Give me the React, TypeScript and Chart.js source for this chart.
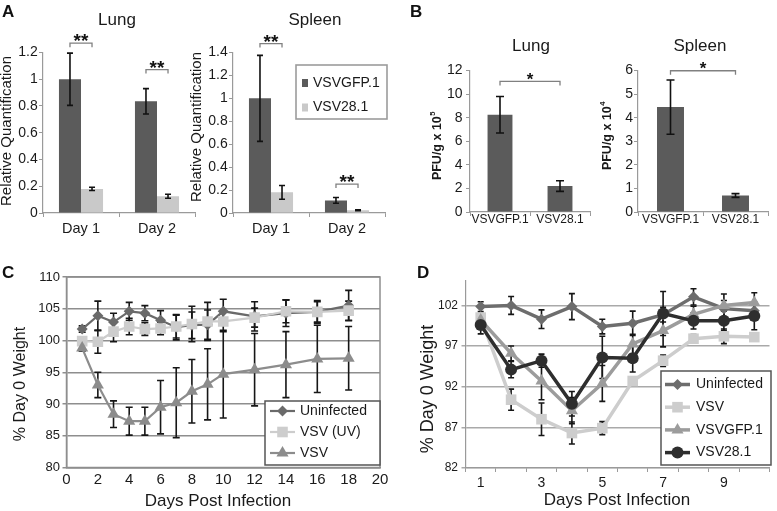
import React, { useEffect, useRef } from "react";
import { Chart, registerables } from "chart.js";

Chart.register(...registerables);

const FONT = '"Liberation Sans", Arial, Helvetica, sans-serif';
Chart.defaults.font.family = FONT;
Chart.defaults.color = "#222";

// ---------------- DATA ----------------
// Panel A (relative quantification)
const aDays = ["Day 1", "Day 2"];
const aSeries = ["VSVGFP.1", "VSV28.1"];
const aLungGFP = [1.0, 0.835];
const aLungGFPErr = [0.195, 0.095];
const aLung28 = [0.18, 0.125];
const aLung28Err = [0.012, 0.015];
const aSpleenGFP = [1.0, 0.11];
const aSpleenGFPErr = [0.375, 0.025];
const aSpleen28 = [0.18, 0.025];
const aSpleen28Err = [0.06, 0.004];
const aLungTicks = [0, 0.2, 0.4, 0.6, 0.8, 1, 1.2];
const aSpleenTicks = [0, 0.2, 0.4, 0.6, 0.8, 1, 1.2, 1.4];
// significance brackets (data units on the y axis)
const aLungSigLevels = [1.27, 1.072];
const aSpleenSigLevels = [1.478, 0.252];

// Panel B (PFU/g)
const bStrains = ["VSVGFP.1", "VSV28.1"];
const bLung = [8.25, 2.2];
const bLungErr = [1.55, 0.45];
const bSpleen = [4.45, 0.7];
const bSpleenErr = [1.15, 0.08];
const bLungTicks = [0, 2, 4, 6, 8, 10, 12];
const bSpleenTicks = [0, 1, 2, 3, 4, 5, 6];
const bLungSigLevel = 11.07;
const bSpleenSigLevel = 5.99;

// Panel C (weight, days 1-18)
const cDays = [1, 2, 3, 4, 5, 6, 7, 8, 9, 10, 12, 14, 16, 18];
const cSeries = ["Uninfected", "VSV (UV)", "VSV"];
const cUninfected = [101.8, 103.9, 102.9, 104.6, 104.3, 103.2, 102.1, 102.4, 102.5, 104.6, 103.8, 104.3, 104.5, 105.5];
const cUninfectedErr = [0.5, 2.3, 1.4, 1.4, 1.2, 1.5, 2.0, 2.1, 2.3, 1.9, 2.3, 2.1, 1.8, 2.4];
const cUV = [99.9, 99.8, 101.4, 102.2, 101.8, 101.9, 102.2, 102.6, 103.0, 103.0, 103.6, 104.6, 104.5, 104.7];
const cUVErr = [0.5, 1.8, 1.6, 1.3, 1.0, 1.0, 1.8, 2.8, 3.0, 1.6, 1.5, 1.8, 1.6, 1.5];
const cVSV = [98.8, 93.0, 88.4, 87.3, 87.3, 89.5, 90.2, 92.0, 93.1, 94.7, 95.4, 96.2, 97.1, 97.2];
const cVSVErr = [0.5, 2.0, 2.1, 2.2, 2.2, 4.2, 5.5, 5.0, 5.6, 6.9, 5.7, 5.2, 5.3, 5.0];
const cXTicks = [0, 2, 4, 6, 8, 10, 12, 14, 16, 18, 20];
const cYTicks = [80, 85, 90, 95, 100, 105, 110];

// Panel D (weight, days 1-10)
const dDays = ["1", "2", "3", "4", "5", "6", "7", "8", "9", "10"];
const dSeries = ["Uninfected", "VSV", "VSVGFP.1", "VSV28.1"];
const dUninfected = [101.85, 102.0, 100.3, 101.85, 99.4, 99.8, 100.85, 103.05, 101.6, 101.35];
const dUninfectedErr = [0.6, 1.1, 1.15, 1.6, 0.9, 1.5, 0.9, 1.0, 1.0, 0.8];
const dVSV = [100.5, 90.4, 88.0, 86.3, 86.9, 92.7, 95.2, 97.9, 98.2, 98.1];
const dVSVErr = [0.5, 1.3, 2.0, 1.35, 0.8, 0.5, 0.7, 0.5, 0.9, 0.5];
const dGFP = [100.2, 96.1, 92.7, 89.05, 92.4, 97.25, 98.9, 100.9, 102.0, 102.35];
const dGFPErr = [0.6, 0.9, 2.3, 1.6, 2.2, 1.2, 2.0, 1.0, 1.4, 1.2];
const d28 = [99.6, 94.1, 95.2, 89.9, 95.6, 95.5, 101.0, 100.1, 100.1, 100.7];
const d28Err = [1.1, 1.0, 0.8, 1.5, 2.6, 1.7, 2.7, 1.0, 1.2, 1.7];
const dYTicks = [82, 87, 92, 97, 102];

// ---------------- STYLE ----------------
const DARK = "#5b5b5b";
const LIGHT = "#c9c9c9";
const AXIS = "#9a9a9a";
const GRID_C = "#8e8e8e";
const GRID_D = "#a9a9a9";
const C_COLORS = ["#6a6a6a", "#cdcdcd", "#8c8c8c"];
const D_COLORS = ["#6d6d6d", "#cdcdcd", "#9c9c9c", "#2e2e2e"];

// ---------------- PLUGINS ----------------
function errorBars(o: { cap: number; width: number; color: string; after: boolean }) {
  const draw = (chart: any) => {
    const ctx = chart.ctx;
    const ys = chart.scales.y;
    ctx.save();
    ctx.strokeStyle = o.color;
    ctx.lineWidth = o.width;
    chart.data.datasets.forEach((ds: any, di: number) => {
      if (!ds.errors) return;
      const meta = chart.getDatasetMeta(di);
      meta.data.forEach((el: any, i: number) => {
        const raw = ds.data[i];
        const v = typeof raw === "number" ? raw : raw.y;
        const e = ds.errors[i];
        const x = el.x;
        const y1 = ys.getPixelForValue(v + e);
        const y2 = ys.getPixelForValue(v - e);
        ctx.beginPath();
        ctx.moveTo(x, y1);
        ctx.lineTo(x, y2);
        ctx.moveTo(x - o.cap / 2, y1);
        ctx.lineTo(x + o.cap / 2, y1);
        ctx.moveTo(x - o.cap / 2, y2);
        ctx.lineTo(x + o.cap / 2, y2);
        ctx.stroke();
      });
    });
    ctx.restore();
  };
  return o.after ? { id: "errorBars", afterDatasetsDraw: draw } : { id: "errorBars", beforeDatasetsDraw: draw };
}

type Sig = { from: [number, number]; to: [number, number]; at: number; text: string };
function sigPlugin(items: Sig[], s: { size: number; leg: number; off: number }) {
  return {
    id: "sig",
    afterDraw(chart: any) {
      const ctx = chart.ctx;
      const ys = chart.scales.y;
      items.forEach((it) => {
        const x1 = chart.getDatasetMeta(it.from[0]).data[it.from[1]].x;
        const x2 = chart.getDatasetMeta(it.to[0]).data[it.to[1]].x;
        const y = ys.getPixelForValue(it.at);
        ctx.save();
        ctx.strokeStyle = "#808080";
        ctx.lineWidth = 1.3;
        ctx.beginPath();
        ctx.moveTo(x1, y + s.leg);
        ctx.lineTo(x1, y);
        ctx.lineTo(x2, y);
        ctx.lineTo(x2, y + s.leg);
        ctx.stroke();
        ctx.font = `bold ${s.size}px ${FONT}`;
        ctx.fillStyle = "#111";
        ctx.textAlign = "center";
        ctx.textBaseline = "alphabetic";
        ctx.fillText(it.text, (x1 + x2) / 2, y + s.off);
        ctx.restore();
      });
    },
  };
}

type TextItem = {
  text: string; x: number; y: number; size: number; bold?: boolean; rotate?: number; sup?: string;
};
function decor(items: TextItem[]) {
  return {
    id: "decor",
    afterDraw(chart: any) {
      const ctx = chart.ctx;
      items.forEach((t) => {
        ctx.save();
        ctx.translate(t.x, t.y);
        if (t.rotate) ctx.rotate((t.rotate * Math.PI) / 180);
        const f = `${t.bold ? "bold " : ""}${t.size}px ${FONT}`;
        const fs = `${t.bold ? "bold " : ""}${t.size * 0.62}px ${FONT}`;
        ctx.fillStyle = "#1a1a1a";
        ctx.textBaseline = "middle";
        if (t.sup) {
          ctx.font = f;
          const w1 = ctx.measureText(t.text).width;
          ctx.font = fs;
          const w2 = ctx.measureText(t.sup).width;
          const start = -(w1 + w2) / 2;
          ctx.textAlign = "left";
          ctx.font = f;
          ctx.fillText(t.text, start, 0);
          ctx.font = fs;
          ctx.fillText(t.sup, start + w1 + 0.5, -t.size * 0.42);
        } else {
          ctx.font = f;
          ctx.textAlign = "center";
          ctx.fillText(t.text, 0, 0);
        }
        ctx.restore();
      });
    },
  };
}

function drawMarker(ctx: any, style: string, x: number, y: number, r: number, color: string) {
  ctx.fillStyle = color;
  ctx.beginPath();
  if (style === "circle") {
    ctx.arc(x, y, r, 0, Math.PI * 2);
  } else if (style === "rect") {
    const s = r * Math.SQRT1_2;
    ctx.rect(x - s, y - s, 2 * s, 2 * s);
  } else if (style === "rectRot") {
    ctx.moveTo(x - r, y);
    ctx.lineTo(x, y - r);
    ctx.lineTo(x + r, y);
    ctx.lineTo(x, y + r);
    ctx.closePath();
  } else if (style === "triangle") {
    ctx.moveTo(x, y - r);
    ctx.lineTo(x + r * 0.866, y + r * 0.5);
    ctx.lineTo(x - r * 0.866, y + r * 0.5);
    ctx.closePath();
  }
  ctx.fill();
}

type LegendOpts = {
  x: number; y: number; w: number; h: number; first: number; gap: number;
  kind: "square" | "line"; sx: number; sw: number; tx: number; size: number; border: string; bw: number;
};
function legendBox(o: LegendOpts) {
  return {
    id: "legendBox",
    afterDatasetsDraw(chart: any) {
      const ctx = chart.ctx;
      ctx.save();
      ctx.fillStyle = "#fff";
      ctx.fillRect(o.x, o.y, o.w, o.h);
      ctx.strokeStyle = o.border;
      ctx.lineWidth = o.bw;
      ctx.strokeRect(o.x, o.y, o.w, o.h);
      chart.data.datasets.forEach((ds: any, i: number) => {
        const cy = o.y + o.first + i * o.gap;
        if (o.kind === "square") {
          ctx.fillStyle = ds.backgroundColor;
          ctx.fillRect(o.sx - 3, cy - 4, 6, 8);
        } else {
          ctx.strokeStyle = ds.borderColor;
          ctx.lineWidth = ds.borderWidth;
          ctx.beginPath();
          ctx.moveTo(o.sx, cy);
          ctx.lineTo(o.sx + o.sw, cy);
          ctx.stroke();
          drawMarker(ctx, ds.pointStyle, o.sx + o.sw / 2, cy, ds.pointRadius, ds.borderColor);
        }
        ctx.fillStyle = "#1a1a1a";
        ctx.font = `${o.size}px ${FONT}`;
        ctx.textAlign = "left";
        ctx.textBaseline = "middle";
        ctx.fillText(ds.label, o.tx, cy);
      });
      ctx.restore();
    },
  };
}

function plotBox(color: string, width: number) {
  return {
    id: "plotBox",
    beforeDatasetsDraw(chart: any) {
      const { left, top, right, bottom } = chart.chartArea;
      const ctx = chart.ctx;
      ctx.save();
      ctx.strokeStyle = color;
      ctx.lineWidth = width;
      ctx.strokeRect(left, top, right - left, bottom - top);
      ctx.restore();
    },
  };
}

const fixTicks = (vals: number[]) => (s: any) => {
  s.ticks = vals.map((v) => ({ value: v }));
};
const fmt1 = (v: any) => String(parseFloat(Number(v).toFixed(1)));

// ---------------- CONFIG BUILDERS ----------------
function barAxes(o: {
  yTicks: number[]; yW: number; xH: number; yTickSize: number; yTl: number; xTickSize: number; xPad: number;
}) {
  const max = o.yTicks[o.yTicks.length - 1];
  return {
    x: {
      grid: { display: true, drawOnChartArea: false, offset: true, tickLength: 4, color: AXIS },
      border: { color: AXIS, width: 1.2 },
      ticks: { font: { size: o.xTickSize }, padding: o.xPad, maxRotation: 0, minRotation: 0, autoSkip: false, color: "#1a1a1a" },
      afterFit: (s: any) => { s.height = o.xH; },
    },
    y: {
      min: 0, max,
      afterBuildTicks: fixTicks(o.yTicks),
      ticks: { font: { size: o.yTickSize }, padding: o.yTl - 4, callback: fmt1, color: "#1a1a1a" },
      grid: { display: true, drawOnChartArea: false, tickLength: 4, color: AXIS },
      border: { color: AXIS, width: 1.2 },
      afterFit: (s: any) => { s.width = o.yW; },
    },
  };
}

const baseOpts = {
  responsive: false,
  animation: false,
  events: [] as any[],
  plugins: { legend: { display: false }, tooltip: { enabled: false } },
};

function aConfig(which: "lung" | "spleen") {
  const lung = which === "lung";
  const gfp = lung ? aLungGFP : aSpleenGFP;
  const gfpE = lung ? aLungGFPErr : aSpleenGFPErr;
  const v28 = lung ? aLung28 : aSpleen28;
  const v28E = lung ? aLung28Err : aSpleen28Err;
  const lv = lung ? aLungSigLevels : aSpleenSigLevels;
  const plugins: any[] = [
    errorBars({ cap: 6, width: 1.6, color: "#111", after: true }),
    sigPlugin(
      [
        { from: [0, 0], to: [1, 0], at: lv[0], text: "**" },
        { from: [0, 1], to: [1, 1], at: lv[1], text: "**" },
      ],
      { size: 19, leg: 4, off: 4 }
    ),
    decor([
      { text: lung ? "Lung" : "Spleen", x: lung ? 117 : 125, y: 20.5, size: 17 },
      { text: "Relative Quantification", x: 6.5, y: lung ? 131 : 127, size: 15, rotate: -90 },
    ]),
  ];
  if (!lung) {
    plugins.push(
      legendBox({ x: 106, y: 65, w: 91, h: 54, first: 18, gap: 24.5, kind: "square", sx: 115, sw: 0, tx: 123, size: 14, border: "#9c9c9c", bw: 1.6 })
    );
  }
  return {
    type: "bar",
    data: {
      labels: aDays,
      datasets: [
        { label: aSeries[0], data: gfp, errors: gfpE, backgroundColor: DARK, categoryPercentage: 0.58, barPercentage: 1 },
        { label: aSeries[1], data: v28, errors: v28E, backgroundColor: LIGHT, categoryPercentage: 0.58, barPercentage: 1 },
      ],
    },
    options: {
      ...baseOpts,
      layout: { padding: { left: 0, right: 5, top: 52.5, bottom: 0 } },
      scales: barAxes({ yTicks: lung ? aLungTicks : aSpleenTicks, yW: 43, xH: 32, yTickSize: 14, yTl: 5.3, xTickSize: 14.5, xPad: 3.3 }),
    },
    plugins,
  };
}

function bConfig(which: "lung" | "spleen") {
  const lung = which === "lung";
  return {
    type: "bar",
    data: {
      labels: bStrains,
      datasets: [
        {
          label: lung ? "Lung" : "Spleen",
          data: lung ? bLung : bSpleen,
          errors: lung ? bLungErr : bSpleenErr,
          backgroundColor: DARK,
          categoryPercentage: 1,
          barPercentage: 0.415,
        },
      ],
    },
    options: {
      ...baseOpts,
      layout: { padding: { left: 0, right: lung ? 5 : 9, top: 70.5, bottom: 0 } },
      scales: barAxes({
        yTicks: lung ? bLungTicks : bSpleenTicks,
        yW: lung ? 75 : 53,
        xH: 33,
        yTickSize: 14,
        yTl: lung ? 7.5 : 5,
        xTickSize: 12,
        xPad: -3.5,
      }),
    },
    plugins: [
      errorBars({ cap: 8, width: 1.6, color: "#111", after: true }),
      sigPlugin([{ from: [0, 0], to: [0, 1], at: lung ? bLungSigLevel : bSpleenSigLevel, text: "*" }], { size: 17, leg: 4, off: 3.5 }),
      decor([
        { text: lung ? "Lung" : "Spleen", x: lung ? 136 : 115, y: 46, size: 17 },
        { text: "PFU/g x 10", sup: lung ? "5" : "4", x: lung ? 43 : 23, y: lung ? 146 : 136, size: 12.5, bold: true, rotate: -90 },
      ]),
    ],
  };
}

function cConfig() {
  const pts = (ys: number[]) => cDays.map((d, i) => ({ x: d, y: ys[i] }));
  const values = [cUninfected, cUV, cVSV];
  const errs = [cUninfectedErr, cUVErr, cVSVErr];
  const styles = ["rectRot", "rect", "triangle"];
  const radii = [5.5, 7.5, 7];
  return {
    type: "scatter",
    data: {
      datasets: cSeries.map((label, i) => ({
        label,
        data: pts(values[i]),
        errors: errs[i],
        showLine: true,
        borderColor: C_COLORS[i],
        backgroundColor: C_COLORS[i],
        pointBackgroundColor: C_COLORS[i],
        pointBorderColor: C_COLORS[i],
        pointBorderWidth: 0,
        pointStyle: styles[i],
        pointRadius: radii[i],
        borderWidth: 2.2,
        order: 3 - i,
      })),
    },
    options: {
      ...baseOpts,
      layout: { padding: { left: 0, right: 12, top: 15, bottom: 0 } },
      scales: {
        x: {
          type: "linear", min: 0, max: 20,
          afterBuildTicks: fixTicks(cXTicks),
          ticks: { font: { size: 15 }, padding: 3.5, maxRotation: 0, autoSkip: false, color: "#1a1a1a" },
          grid: { display: true, drawOnChartArea: false, drawTicks: false, color: GRID_C },
          border: { color: GRID_C, width: 1.5 },
          afterFit: (s: any) => { s.height = 43.5; },
        },
        y: {
          min: 80, max: 110,
          afterBuildTicks: fixTicks(cYTicks),
          ticks: { font: { size: 13 }, padding: 2.5, color: "#1a1a1a" },
          grid: { color: GRID_C, lineWidth: 1.5, tickLength: 4 },
          border: { color: GRID_C, width: 1.5 },
          afterFit: (s: any) => { s.width = 66.5; },
        },
      },
    },
    plugins: [
      plotBox(GRID_C, 1.5),
      errorBars({ cap: 7, width: 1.6, color: "#161616", after: false }),
      legendBox({ x: 265, y: 139, w: 115, h: 64, first: 10, gap: 21, kind: "line", sx: 270, sw: 25, tx: 300, size: 14, border: "#555", bw: 1.5 }),
      decor([
        { text: "% Day 0 Weight", x: 21, y: 122, size: 16, rotate: -90 },
        { text: "Days Post Infection", x: 218, y: 239, size: 17 },
      ]),
    ],
  };
}

function dConfig() {
  const values = [dUninfected, dVSV, dGFP, d28];
  const errs = [dUninfectedErr, dVSVErr, dGFPErr, d28Err];
  const styles = ["rectRot", "rect", "triangle", "circle"];
  const radii = [5.5, 7.5, 7, 6];
  return {
    type: "line",
    data: {
      labels: dDays,
      datasets: dSeries.map((label, i) => ({
        label,
        data: values[i],
        errors: errs[i],
        borderColor: D_COLORS[i],
        backgroundColor: D_COLORS[i],
        pointBackgroundColor: D_COLORS[i],
        pointBorderColor: D_COLORS[i],
        pointBorderWidth: 0,
        pointStyle: styles[i],
        pointRadius: radii[i],
        borderWidth: 3.5,
        order: 4 - i,
      })),
    },
    options: {
      ...baseOpts,
      layout: { padding: { left: 0, right: 1.5, top: 19, bottom: 0 } },
      scales: {
        x: {
          offset: true,
          grid: { display: true, offset: true, drawOnChartArea: false, tickLength: 4, color: AXIS },
          border: { color: AXIS, width: 1.2 },
          ticks: {
            font: { size: 14 }, padding: 2.6, autoSkip: false, maxRotation: 0, color: "#1a1a1a",
            callback: (_v: any, i: number) => (i % 2 === 0 ? dDays[i] : ""),
          },
          afterFit: (s: any) => { s.height = 43; },
        },
        y: {
          min: 82, max: 105,
          afterBuildTicks: fixTicks(dYTicks),
          ticks: { font: { size: 12 }, padding: 3.5, color: "#1a1a1a" },
          grid: { color: GRID_D, lineWidth: 1.5, tickLength: 4 },
          border: { color: AXIS, width: 1.2 },
          afterFit: (s: any) => { s.width = 75.5; },
        },
      },
    },
    plugins: [
      errorBars({ cap: 6, width: 1.6, color: "#161616", after: false }),
      legendBox({ x: 271, y: 109, w: 110, h: 94, first: 13.5, gap: 22.7, kind: "line", sx: 275, sw: 25, tx: 306, size: 14, border: "#555", bw: 1.5 }),
      decor([
        { text: "% Day 0 Weight", x: 38.5, y: 127, size: 18, rotate: -90 },
        { text: "Days Post Infection", x: 227, y: 238.5, size: 17 },
      ]),
    ],
  };
}

// ---------------- COMPONENTS ----------------
function ChartCanvas(props: { left: number; top: number; width: number; height: number; make: () => any }) {
  const ref = useRef<HTMLCanvasElement | null>(null);
  useEffect(() => {
    if (!ref.current) return;
    const chart = new Chart(ref.current, props.make());
    return () => chart.destroy();
  }, []);
  return (
    <canvas
      ref={ref}
      width={props.width}
      height={props.height}
      style={{ position: "absolute", left: props.left, top: props.top, width: props.width, height: props.height }}
    />
  );
}

function PanelLetter(props: { text: string; left: number; top: number }) {
  return (
    <div
      style={{
        position: "absolute", left: props.left, top: props.top, fontFamily: FONT, fontWeight: "bold",
        fontSize: 17, lineHeight: "17px", color: "#111",
      }}
    >
      {props.text}
    </div>
  );
}

export default function App() {
  return (
    <div style={{ position: "fixed", left: 0, top: 0, width: 777, height: 511, background: "#fff", overflow: "hidden" }}>
      <ChartCanvas left={0} top={0} width={200} height={245} make={() => aConfig("lung")} />
      <ChartCanvas left={190} top={0} width={200} height={245} make={() => aConfig("spleen")} />
      <ChartCanvas left={395} top={0} width={200} height={245} make={() => bConfig("lung")} />
      <ChartCanvas left={585} top={0} width={192} height={245} make={() => bConfig("spleen")} />
      <ChartCanvas left={0} top={262} width={392} height={249} make={cConfig} />
      <ChartCanvas left={390} top={262} width={387} height={249} make={dConfig} />
      <PanelLetter text="A" left={2} top={2.5} />
      <PanelLetter text="B" left={410} top={2.5} />
      <PanelLetter text="C" left={2} top={263.5} />
      <PanelLetter text="D" left={417} top={263.5} />
    </div>
  );
}
